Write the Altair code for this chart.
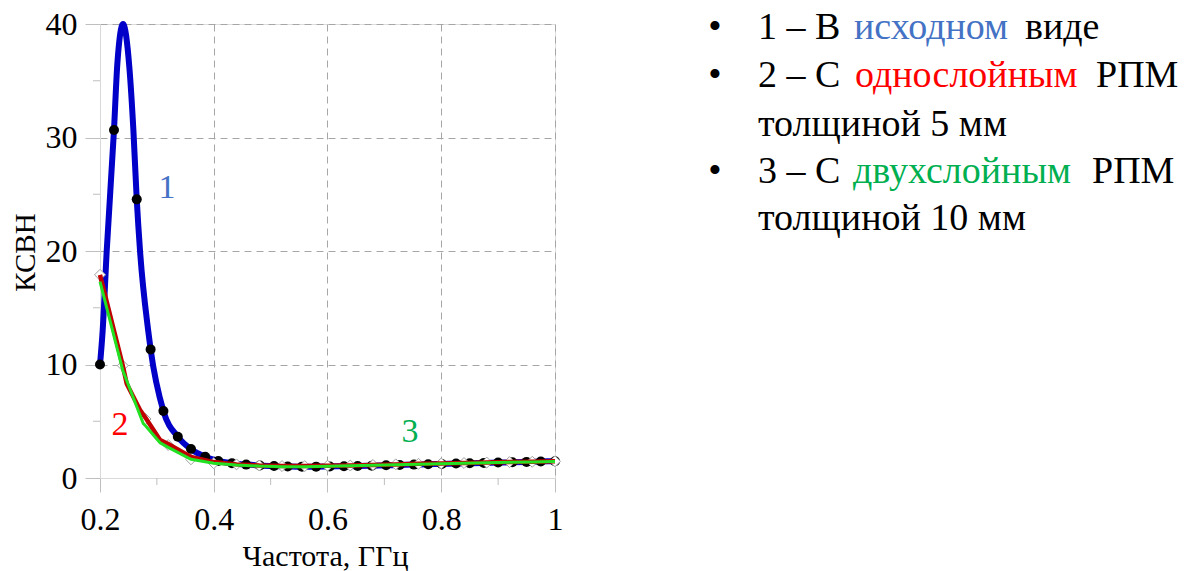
import altair as alt
import pandas as pd

# ---- data ----
# series 1 (original): line and dot markers
s1_line_x = [0.2, 0.2047, 0.2118, 0.2246, 0.2305, 0.2405, 0.2516, 0.2587, 0.2646, 0.2704, 0.2847, 0.289,
             0.3115, 0.3368, 0.36, 0.385, 0.408, 0.432, 0.457, 0.481, 0.506, 0.53, 0.555, 0.58, 0.604,
             0.629, 0.653, 0.678, 0.703, 0.727, 0.752, 0.777, 0.801, 0.826, 0.85, 0.875, 0.9, 0.925,
             0.95, 0.975, 1.0]
s1_line_y = [10.0, 13.0, 20.0, 30.66, 36.5, 40.0, 36.2, 30.66, 24.55, 20.0, 13.0, 11.33,
             5.9, 3.64, 2.55, 1.88, 1.5, 1.3, 1.18, 1.1, 1.05, 1.02, 1.0, 1.0, 1.02,
             1.04, 1.06, 1.09, 1.12, 1.15, 1.18, 1.21, 1.24, 1.27, 1.3, 1.33, 1.36, 1.39,
             1.42, 1.45, 1.48]
s1_dot_x = [0.2, 0.2246, 0.2646, 0.289, 0.3115, 0.3368, 0.36, 0.385, 0.408, 0.432, 0.457, 0.481,
            0.506, 0.53, 0.555, 0.58, 0.604, 0.629, 0.653, 0.678, 0.703, 0.727, 0.752, 0.777,
            0.801, 0.826, 0.85, 0.875, 0.9, 0.925, 0.95, 0.975, 1.0]
s1_dot_y = [10.0, 30.66, 24.55, 11.33, 5.9, 3.64, 2.55, 1.88, 1.5, 1.3, 1.18, 1.1,
            1.05, 1.02, 1.0, 1.0, 1.02, 1.04, 1.06, 1.09, 1.12, 1.15, 1.18, 1.21,
            1.24, 1.27, 1.3, 1.33, 1.36, 1.39, 1.42, 1.45, 1.48]

# series 2 (single layer 5 mm) and 3 (double layer 10 mm)
s2_line_x = [0.2, 0.24, 0.247, 0.2704, 0.28, 0.3056, 0.32, 0.36, 0.4, 0.44, 0.48, 0.52, 0.56, 0.6,
             0.64, 0.68, 0.72, 0.76, 0.8, 0.84, 0.88, 0.92, 0.96, 1.0]
s2_line_y = [17.9, 9.9, 8.3, 6.0, 5.3, 3.35, 3.0, 1.85, 1.4, 1.2, 1.1, 1.05, 1.05, 1.08,
             1.1, 1.15, 1.2, 1.25, 1.28, 1.32, 1.36, 1.4, 1.43, 1.47]
s3_line_x = [0.2, 0.24, 0.276, 0.28, 0.3056, 0.32, 0.36, 0.4, 0.44, 0.48, 0.52, 0.56, 0.6,
             0.64, 0.68, 0.72, 0.76, 0.8, 0.84, 0.88, 0.92, 0.96, 1.0]
s3_line_y = [17.3, 9.5, 4.8, 4.6, 3.1, 2.7, 1.65, 1.3, 1.15, 1.05, 1.0, 1.0, 1.03,
             1.07, 1.12, 1.17, 1.22, 1.26, 1.3, 1.34, 1.38, 1.41, 1.45]
diam_x = [0.2, 0.24, 0.28, 0.32, 0.36, 0.4, 0.44, 0.48, 0.52, 0.56, 0.6, 0.64, 0.68, 0.72,
          0.76, 0.8, 0.84, 0.88, 0.92, 0.96, 1.0]
diam_y = [17.9, 9.9, 5.2, 2.9, 1.65, 1.3, 1.2, 1.1, 1.05, 1.05, 1.08, 1.1, 1.15, 1.2,
          1.25, 1.28, 1.32, 1.36, 1.4, 1.43, 1.47]

x_ticks = [0.2, 0.4, 0.6, 0.8, 1.0]
x_minor = [0.3, 0.5, 0.7, 0.9]
y_ticks = [0, 10, 20, 30, 40]
y_minor = [5, 15, 25, 35]

curve_labels = ["1", "2", "3"]
curve_label_x = [0.3178, 0.2352, 0.745]
curve_label_y = [24.67, 3.79, 3.17]
curve_label_color = ["#4472C4", "#FF0000", "#00B050"]

legend_segments = [
    ("1 – В", "#000000", 758, 39), ("исходном", "#4472C4", 854, 39), ("виде", "#000000", 1025, 39),
    ("2 – С", "#000000", 758, 87), ("однослойным", "#FF0000", 855, 87), ("РПМ", "#000000", 1096, 87),
    ("толщиной 5 мм", "#000000", 758, 136),
    ("3 – С", "#000000", 758, 183), ("двухслойным", "#00B050", 853, 183), ("РПМ", "#000000", 1092, 183),
    ("толщиной 10 мм", "#000000", 758, 230),
]
bullet_y = [39, 87, 183]

FONT = "Times New Roman, Liberation Serif, serif"
LEFT, TOP = 100, 24
W, H = 455, 454

xs = alt.Scale(domain=[0.2, 1.0], nice=False, zero=False)
ys = alt.Scale(domain=[0, 40], nice=False)

x_axis = alt.Axis(values=x_ticks, labelExpr="datum.value == 1 ? '1' : format(datum.value, '.1f')",
                  labelFont=FONT, labelFontSize=32, labelColor="#000", labelPadding=12,
                  labelFlush=False,
                  tickSize=14, tickColor="#BFBFBF",
                  domainColor="#D9D9D9", grid=True, gridColor="#A6A6A6", gridDash=[7, 5],
                  gridOpacity={"condition": {"test": "datum.value <= 0.2", "value": 0}, "value": 1},
                  title="Частота, ГГц", titleFont=FONT, titleFontSize=30, titleFontWeight="normal",
                  titleColor="#000", titleX=225, titleY=78, titleBaseline="middle", titleAlign="center")
y_axis = alt.Axis(values=y_ticks, labelFont=FONT, labelFontSize=32, labelColor="#000", labelPadding=8,
                  labelFlush=False,
                  tickSize=15, tickColor="#BFBFBF",
                  domainColor="#D9D9D9", grid=True, gridColor="#A6A6A6", gridDash=[7, 5],
                  gridOpacity={"condition": {"test": "datum.value <= 0", "value": 0}, "value": 1},
                  title="КСВН", titleFont=FONT, titleFontSize=29, titleFontWeight="normal",
                  titleColor="#000", titleX=-75, titleY=228, titleBaseline="middle", titleAlign="center")

df1 = pd.DataFrame({"x": s1_line_x, "y": s1_line_y})
dfd = pd.DataFrame({"x": s1_dot_x, "y": s1_dot_y})
df2 = pd.DataFrame({"x": s2_line_x, "y": s2_line_y})
df3 = pd.DataFrame({"x": s3_line_x, "y": s3_line_y})
dfdm = pd.DataFrame({"x": diam_x, "y": diam_y})

blue = alt.Chart(df1).mark_line(color="#0000C8", strokeWidth=6, interpolate="monotone").encode(
    x=alt.X("x:Q", scale=xs, axis=x_axis), y=alt.Y("y:Q", scale=ys, axis=y_axis))
dots = alt.Chart(dfd).mark_circle(color="#000000", opacity=1, size=100).encode(
    x=alt.X("x:Q", scale=xs), y=alt.Y("y:Q", scale=ys))
diam = alt.Chart(dfdm).mark_point(shape="diamond", filled=True, fill="#FFFFFF", stroke="#A0A0A0",
                                  strokeWidth=1, size=120, opacity=1).encode(
    x=alt.X("x:Q", scale=xs), y=alt.Y("y:Q", scale=ys))
red = alt.Chart(df2).mark_line(color="#C00000", strokeWidth=4.5).encode(
    x=alt.X("x:Q", scale=xs), y=alt.Y("y:Q", scale=ys))
green = alt.Chart(df3).mark_line(color="#22E022", strokeWidth=3).encode(
    x=alt.X("x:Q", scale=xs), y=alt.Y("y:Q", scale=ys))

xminor = alt.Chart(pd.DataFrame({"x": x_minor})).mark_rule(color="#BFBFBF").encode(
    x=alt.X("x:Q", scale=xs), y=alt.value(H), y2=alt.value(H + 7))
yminor = alt.Chart(pd.DataFrame({"y": y_minor})).mark_rule(color="#BFBFBF").encode(
    y=alt.Y("y:Q", scale=ys), x=alt.value(-7), x2=alt.value(0))

lab = alt.Chart(pd.DataFrame({"x": curve_label_x, "y": curve_label_y, "t": curve_labels,
                              "c": curve_label_color})).mark_text(
    font=FONT, fontSize=34, align="center", baseline="alphabetic").encode(
    x=alt.X("x:Q", scale=xs), y=alt.Y("y:Q", scale=ys), text="t:N",
    color=alt.Color("c:N", scale=None))

leg_df = pd.DataFrame({"t": [s[0] for s in legend_segments], "c": [s[1] for s in legend_segments],
                       "px": [s[2] - LEFT for s in legend_segments],
                       "py": [s[3] - TOP for s in legend_segments]})
legend = alt.Chart(leg_df).mark_text(font=FONT, fontSize=38, align="left", baseline="alphabetic").encode(
    x=alt.X("px:Q", scale=None), y=alt.Y("py:Q", scale=None), text="t:N",
    color=alt.Color("c:N", scale=None))
bul_df = pd.DataFrame({"t": ["•"] * 3, "px": [715 - LEFT] * 3, "py": [b - TOP for b in bullet_y]})
bullets = alt.Chart(bul_df).mark_text(font=FONT, fontSize=38, align="center", baseline="alphabetic",
                                      color="#000").encode(
    x=alt.X("px:Q", scale=None), y=alt.Y("py:Q", scale=None), text="t:N")

chart = alt.layer(xminor, yminor, blue, dots, diam, red, green, lab, legend, bullets).properties(
    width=W, height=H,
    padding={"left": LEFT, "top": TOP, "right": 1186 - LEFT - W, "bottom": 571 - TOP - H},
    autosize=alt.AutoSizeParams(type="none"),
).configure_view(stroke=None).configure(background="white")

chart.save("out.html", embed_options={"renderer": "svg", "actions": False})
